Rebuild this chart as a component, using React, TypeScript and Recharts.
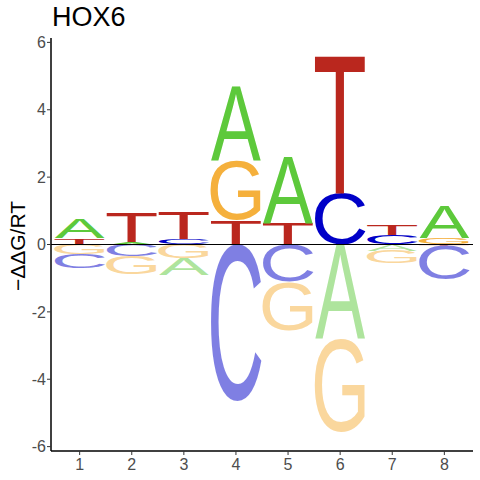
import { BarChart, Bar, XAxis, YAxis, ReferenceLine } from 'recharts';

const positions = [1, 2, 3, 4, 5, 6, 7, 8];
const letters = ['A', 'C', 'G', 'T'];
const aValues = [0.56, 0.06, -0.5, 2.2, 1.96, -2.78, -0.18, 0.93];
const cValues = [-0.41, -0.35, 0.15, -4.68, -1.1, 1.51, 0.28, -1.0];
const gValues = [-0.3, -0.54, -0.42, 1.76, -1.46, -2.8, -0.38, 0.2];
const tValues = [0.18, 0.85, 0.78, 0.72, 0.64, 4.07, 0.3, -0.05];
const yTicks = [-6, -4, -2, 0, 2, 4, 6];

const COLORS: Record<string, string> = {
  A: '#5DC93B',
  C: '#0000C8',
  G: '#F5B03C',
  T: '#BA271E',
};

// ink box of each glyph in Liberation Sans, in em (y down, baseline 0)
const GLYPH: Record<string, { x0: number; x1: number; y0: number; y1: number }> = {
  A: { x0: -0.0015, x1: 0.668, y0: -0.688, y1: 0 },
  C: { x0: 0.05, x1: 0.679, y0: -0.7, y1: 0.012 },
  G: { x0: 0.055, x1: 0.713, y0: -0.7, y1: 0.012 },
  T: { x0: 0.023, x1: 0.591, y0: -0.688, y1: 0 },
};

const valueMap: Record<string, number[]> = { A: aValues, C: cValues, G: gValues, T: tValues };
const RANKS = [0, 1, 2, 3];

const rows = positions.map((pos, i) => {
  const row: Record<string, any> = { pos };
  const entries = letters.map((l) => ({ l, v: valueMap[l][i] }));
  const up = entries.filter((e) => e.v > 0).sort((a, b) => a.v - b.v);
  const down = entries.filter((e) => e.v < 0).sort((a, b) => b.v - a.v);
  RANKS.forEach((k) => {
    row['p' + k] = up[k] ? up[k].v : 0;
    row['p' + k + 'L'] = up[k] ? up[k].l : null;
    row['n' + k] = down[k] ? down[k].v : 0;
    row['n' + k + 'L'] = down[k] ? down[k].l : null;
  });
  return row;
});

function renderLetter(key: string, neg: boolean, props: any) {
  const { x, y, width, height, payload } = props;
  const letter = payload ? payload[key + 'L'] : null;
  if (!letter || !height || Math.abs(height) < 0.3) return <g />;
  const g = GLYPH[letter];
  const top = Math.min(y, y + height);
  const bottom = Math.max(y, y + height);
  const F = 100;
  const sx = width / ((g.x1 - g.x0) * F);
  const sy = (bottom - top) / ((g.y1 - g.y0) * F);
  const tx = x - sx * g.x0 * F;
  const ty = top - sy * g.y0 * F;
  return (
    <text
      x={0}
      y={0}
      fontSize={F}
      fontFamily="'Liberation Sans', Arial, sans-serif"
      fill={COLORS[letter]}
      fillOpacity={neg ? 0.5 : 1}
      transform={`matrix(${sx} 0 0 ${sy} ${tx} ${ty})`}
    >
      {letter}
    </text>
  );
}

export default function App() {
  return (
    <div
      style={{
        position: 'absolute',
        left: 0,
        top: 0,
        width: 480,
        height: 480,
        background: '#fff',
        fontFamily: "'Liberation Sans', Arial, sans-serif",
      }}
    >
      <BarChart
        width={480}
        height={480}
        data={rows}
        stackOffset="sign"
        barSize={50}
        margin={{ top: 38, right: 7, bottom: 0, left: 0 }}
      >
        <XAxis
          type="number"
          dataKey="pos"
          domain={[0.45, 8.55]}
          ticks={positions}
          allowDataOverflow
          height={29}
          tickSize={4}
          tickMargin={4}
          tick={{ fill: '#4D4D4D', fontSize: 16 }}
          axisLine={{ stroke: '#000', strokeWidth: 1.5 }}
          tickLine={{ stroke: '#333' }}
        />
        <YAxis
          type="number"
          domain={[-6.13, 6.13]}
          ticks={yTicks}
          allowDataOverflow
          width={51}
          tickSize={4}
          tickMargin={1}
          tick={{ fill: '#4D4D4D', fontSize: 16 }}
          axisLine={{ stroke: '#000', strokeWidth: 1.5 }}
          tickLine={{ stroke: '#333' }}
        />
        {RANKS.map((k) => (
          <Bar
            key={'p' + k}
            dataKey={'p' + k}
            stackId="s"
            isAnimationActive={false}
            shape={(props: any) => renderLetter('p' + k, false, props)}
          />
        ))}
        {RANKS.map((k) => (
          <Bar
            key={'n' + k}
            dataKey={'n' + k}
            stackId="s"
            isAnimationActive={false}
            shape={(props: any) => renderLetter('n' + k, true, props)}
          />
        ))}
        <ReferenceLine y={0} stroke="#000" strokeWidth={1} />
      </BarChart>
      <svg
        width={480}
        height={480}
        style={{ position: 'absolute', left: 0, top: 0, pointerEvents: 'none' }}
      >
        <text x={52} y={26} fontSize={27} fill="#000">
          HOX6
        </text>
        <text
          x={25}
          y={246}
          fontSize={21}
          fill="#000"
          textAnchor="middle"
          transform="rotate(-90, 25, 246)"
        >
          −ΔΔG/RT
        </text>
      </svg>
    </div>
  );
}
